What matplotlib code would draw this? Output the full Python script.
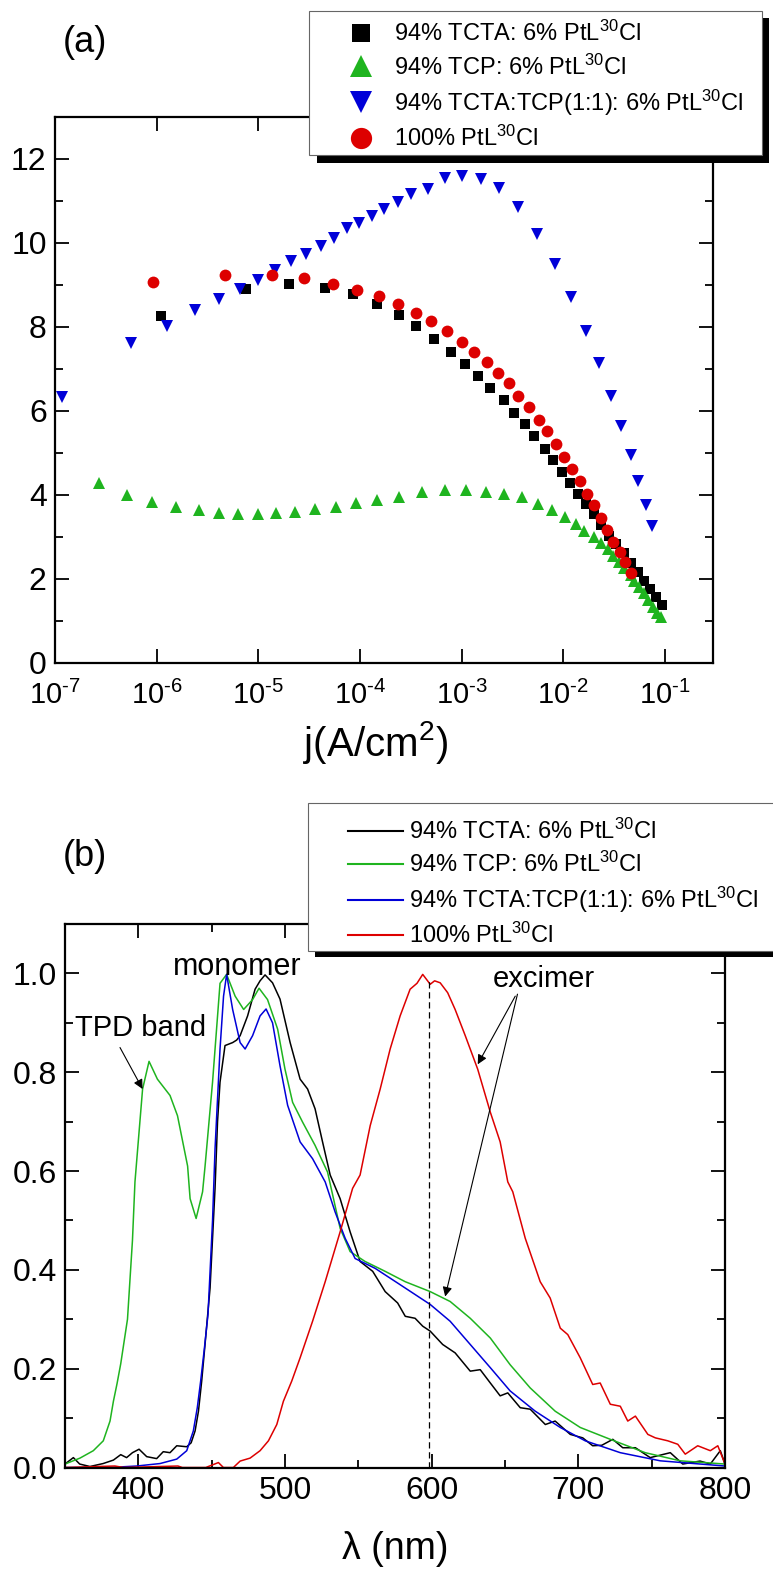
import numpy as np
import matplotlib
matplotlib.use('Agg')
import matplotlib.pyplot as plt
from matplotlib.patches import Rectangle
from matplotlib.ticker import (LogLocator, NullLocator, MultipleLocator,
                               FormatStrFormatter, FuncFormatter)

plt.rcParams['font.family'] = ['Liberation Sans', 'DejaVu Sans']
plt.rcParams['mathtext.fontset'] = 'custom'
plt.rcParams['mathtext.rm'] = 'Liberation Sans'
plt.rcParams['mathtext.it'] = 'Liberation Sans:italic'
plt.rcParams['mathtext.bf'] = 'Liberation Sans:bold'

labels = [r'94% TCTA: 6% PtL$^{30}$Cl',
          r'94% TCP: 6% PtL$^{30}$Cl',
          r'94% TCTA:TCP(1:1): 6% PtL$^{30}$Cl',
          r'100% PtL$^{30}$Cl']

# (a) EQE vs current density
j_tcta = [1.1e-6, 7.6e-6, 2.0e-5, 4.5e-5, 8.5e-5, 1.48e-4, 2.4e-4, 3.6e-4, 5.4e-4, 7.8e-4,
          1.07e-3, 1.45e-3, 1.9e-3, 2.6e-3, 3.3e-3, 4.2e-3, 5.2e-3, 6.6e-3, 7.9e-3, 9.8e-3,
          1.17e-2, 1.41e-2, 1.66e-2, 2.0e-2, 2.34e-2, 2.8e-2, 3.3e-2, 4.0e-2, 4.7e-2, 5.4e-2,
          6.2e-2, 7.1e-2, 8.1e-2, 9.3e-2]
eqe_tcta = [8.26, 8.90, 9.02, 8.92, 8.79, 8.55, 8.29, 8.01, 7.71, 7.41,
            7.11, 6.83, 6.54, 6.26, 5.96, 5.68, 5.39, 5.10, 4.82, 4.54,
            4.28, 4.02, 3.79, 3.54, 3.29, 3.03, 2.83, 2.61, 2.39, 2.17,
            1.96, 1.75, 1.56, 1.38]

j_tcp = [2.7e-7, 5.1e-7, 9.1e-7, 1.55e-6, 2.6e-6, 4.1e-6, 6.3e-6, 1.0e-5, 1.5e-5, 2.3e-5,
         3.6e-5, 5.8e-5, 9.1e-5, 1.48e-4, 2.45e-4, 4.1e-4, 6.8e-4, 1.1e-3, 1.74e-3, 2.6e-3,
         3.9e-3, 5.6e-3, 7.8e-3, 1.05e-2, 1.35e-2, 1.62e-2, 2.0e-2, 2.34e-2, 2.75e-2, 3.1e-2,
         3.55e-2, 4.0e-2, 4.6e-2, 5.0e-2, 5.6e-2, 6.2e-2, 6.9e-2, 7.6e-2, 8.3e-2, 9.1e-2]
eqe_tcp = [4.29, 4.00, 3.82, 3.71, 3.63, 3.58, 3.55, 3.55, 3.56, 3.60,
           3.66, 3.72, 3.80, 3.89, 3.96, 4.08, 4.12, 4.12, 4.08, 4.03,
           3.94, 3.79, 3.63, 3.47, 3.31, 3.15, 2.99, 2.85, 2.71, 2.55,
           2.41, 2.25, 2.10, 1.96, 1.82, 1.66, 1.50, 1.34, 1.20, 1.09]

j_mix = [1.17e-7, 5.6e-7, 1.26e-6, 2.4e-6, 4.1e-6, 6.6e-6, 1.0e-5, 1.45e-5, 2.1e-5, 2.95e-5,
         4.1e-5, 5.5e-5, 7.4e-5, 9.8e-5, 1.32e-4, 1.74e-4, 2.35e-4, 3.2e-4, 4.7e-4, 6.8e-4,
         1.02e-3, 1.55e-3, 2.35e-3, 3.6e-3, 5.5e-3, 8.3e-3, 1.2e-2, 1.66e-2, 2.24e-2, 2.95e-2,
         3.7e-2, 4.6e-2, 5.5e-2, 6.5e-2, 7.4e-2]
eqe_mix = [6.32, 7.61, 8.02, 8.39, 8.66, 8.90, 9.12, 9.36, 9.56, 9.74,
           9.93, 10.11, 10.35, 10.47, 10.63, 10.80, 10.98, 11.17, 11.28, 11.54,
           11.58, 11.52, 11.30, 10.85, 10.21, 9.50, 8.72, 7.91, 7.14, 6.36,
           5.63, 4.94, 4.32, 3.75, 3.25]

j_neat = [9.3e-7, 4.7e-6, 1.35e-5, 2.8e-5, 5.4e-5, 9.3e-5, 1.55e-4, 2.35e-4, 3.55e-4, 5.0e-4,
          7.2e-4, 1.0e-3, 1.32e-3, 1.78e-3, 2.3e-3, 2.95e-3, 3.6e-3, 4.6e-3, 5.8e-3, 6.9e-3,
          8.5e-3, 1.02e-2, 1.23e-2, 1.48e-2, 1.7e-2, 2.0e-2, 2.34e-2, 2.7e-2, 3.1e-2, 3.6e-2,
          4.1e-2, 4.6e-2]
eqe_neat = [9.06, 9.24, 9.24, 9.16, 9.02, 8.88, 8.74, 8.55, 8.34, 8.13,
            7.89, 7.64, 7.39, 7.17, 6.91, 6.66, 6.36, 6.08, 5.79, 5.51,
            5.21, 4.90, 4.61, 4.32, 4.02, 3.75, 3.44, 3.17, 2.89, 2.64,
            2.40, 2.15]

# (b) EL spectra
wl_tcta = [350, 355.7, 360, 367, 376, 383, 388, 392, 396, 400.5, 405.7, 412.5, 417, 421.6,
           426.2, 433, 436, 438.7, 441, 443.2, 445.5, 448.9, 452.3, 454, 455.7, 459.1, 464.3,
           467, 469.4, 474.5, 479.6, 483, 486.4, 491.5, 496.6, 503.5, 510.3, 515.4, 520.5,
           525.6, 530.8, 537.6, 544.4, 551.2, 559.8, 568.3, 576.8, 582, 588.7, 593.9, 599,
           607.5, 616, 626.3, 633.1, 640, 646.7, 651.9, 660.4, 667.2, 677.5, 684.2, 694.5,
           703, 709.8, 716, 723.5, 730.3, 738.9, 749, 762.7, 771.2, 783, 790, 796.8, 800]
el_tcta = [0.007, 0.02, 0.007, 0.002, 0.008, 0.015, 0.026, 0.02, 0.03, 0.037, 0.022, 0.018,
           0.032, 0.03, 0.044, 0.042, 0.05, 0.074, 0.114, 0.175, 0.25, 0.363, 0.565, 0.70,
           0.78, 0.854, 0.86, 0.865, 0.874, 0.914, 0.968, 0.985, 0.997, 0.981, 0.948, 0.86,
           0.786, 0.766, 0.726, 0.659, 0.592, 0.544, 0.477, 0.417, 0.397, 0.356, 0.333, 0.306,
           0.302, 0.286, 0.276, 0.249, 0.232, 0.195, 0.198, 0.171, 0.145, 0.151, 0.121, 0.118,
           0.087, 0.094, 0.067, 0.06, 0.044, 0.045, 0.057, 0.04, 0.04, 0.02, 0.03, 0.007,
           0.013, 0.007, 0.034, 0.007]

wl_tcp = [350, 360.2, 369.3, 376.1, 380.7, 383, 385.5, 388, 392.6, 396, 397.7, 402.9, 407.3,
          413, 421.6, 426.7, 433.6, 435.3, 439.4, 443.8, 445.5, 450.6, 455.7, 460.2, 466,
          471.8, 477.9, 482.3, 488.1, 495, 500, 505.2, 512, 520.5, 529, 537.6, 544.4, 554.6,
          568.3, 582, 599, 612.6, 626.3, 640, 653.5, 667.2, 684.2, 701.3, 721.8, 745.6,
          769.5, 800]
el_tcp = [0.007, 0.019, 0.034, 0.054, 0.094, 0.134, 0.17, 0.21, 0.30, 0.46, 0.578, 0.766,
          0.822, 0.786, 0.753, 0.712, 0.61, 0.544, 0.504, 0.558, 0.61, 0.78, 0.98, 0.998,
          0.954, 0.927, 0.947, 0.97, 0.947, 0.887, 0.806, 0.739, 0.699, 0.652, 0.598, 0.484,
          0.437, 0.417, 0.397, 0.376, 0.356, 0.336, 0.302, 0.262, 0.208, 0.161, 0.114, 0.081,
          0.057, 0.03, 0.0135, 0.007]

wl_mix = [350, 380.7, 398.9, 414.8, 426.2, 433, 437.5, 440.2, 442.5, 445, 447.5, 450.6, 452.3,
          455.7, 458.1, 460.2, 464.3, 469.4, 472.8, 477.9, 483, 487.1, 491.5, 496.6, 501.8,
          510.3, 518.8, 527.4, 534.2, 541, 547.8, 561.5, 578.5, 599, 612.6, 626.3, 640,
          653.5, 670.6, 687.7, 704.7, 728.6, 755.9, 800]
el_mix = [0.0, 0.0, 0.003, 0.008, 0.017, 0.034, 0.074, 0.121, 0.175, 0.24, 0.31, 0.50, 0.645,
          0.847, 0.954, 0.998, 0.927, 0.86, 0.847, 0.874, 0.914, 0.928, 0.90, 0.813, 0.733,
          0.659, 0.625, 0.578, 0.517, 0.464, 0.423, 0.403, 0.37, 0.33, 0.296, 0.249, 0.202,
          0.155, 0.114, 0.081, 0.054, 0.03, 0.0135, 0.003]

wl_neat = [350, 384, 390, 427, 430, 446, 454.6, 458, 464.8, 469.4, 476.2, 483, 488.7, 494.4,
           498.9, 504.6, 510.3, 518.8, 527.4, 537.6, 546.1, 551.2, 558.1, 564.9, 571.7, 578.5,
           585.3, 590, 593.9, 599, 602, 605.8, 610.9, 616, 622.9, 631.4, 640, 646.7, 651.9,
           655.3, 663.8, 674, 680.8, 687.7, 692.8, 701.3, 709.8, 714.9, 721.8, 728.6, 733.7,
           738.9, 747.4, 752.5, 761, 767.8, 772.9, 781.4, 790, 795.1, 800]
el_neat = [0.0, 0.003, 0.0, 0.003, 0.0, 0.0, 0.01, 0.0, 0.0, 0.013, 0.019, 0.034, 0.054,
           0.087, 0.134, 0.175, 0.222, 0.296, 0.376, 0.477, 0.565, 0.592, 0.692, 0.766, 0.847,
           0.914, 0.968, 0.98, 0.998, 0.978, 0.985, 0.981, 0.961, 0.927, 0.874, 0.806, 0.719,
           0.659, 0.578, 0.558, 0.464, 0.376, 0.343, 0.282, 0.269, 0.222, 0.168, 0.171, 0.128,
           0.124, 0.094, 0.104, 0.067, 0.06, 0.054, 0.047, 0.027, 0.044, 0.034, 0.044, 0.007]

excimer_peak = 598

W, H = 773, 1570


def fx(px):
    return px / W


def fy(py):
    return 1 - py / H


fig = plt.figure(figsize=(W / 100, H / 100), dpi=100)
ax1 = fig.add_axes([fx(55), fy(663), (713.3 - 55) / W, (663 - 116.7) / H])
ax2 = fig.add_axes([fx(65), fy(1467.5), (725 - 65) / W, (1467.5 - 924) / H])

green = '#1fb41f'
blue = '#0000d8'
red = '#dd0000'

# ---- panel (a)
ax1.plot(j_tcta, eqe_tcta, 's', color='black', ms=7.2, mew=0, label=labels[0])
ax1.plot(j_tcp, eqe_tcp, '^', color=green, ms=8.5, mew=0, label=labels[1])
ax1.plot(j_mix, eqe_mix, 'v', color=blue, ms=8.5, mew=0, label=labels[2])
ax1.plot(j_neat, eqe_neat, 'o', color=red, ms=8.5, mew=0, label=labels[3])
ax1.set_xscale('log')
ax1.set_xlim(1e-7, 0.3)
ax1.set_ylim(0, 13)
ax1.xaxis.set_major_locator(LogLocator(base=10, numticks=20))
ax1.xaxis.set_minor_locator(NullLocator())
ax1.xaxis.set_major_formatter(FuncFormatter(
    lambda v, p: '10$^{\u2010%d}$' % int(round(-np.log10(v)))))
ax1.yaxis.set_major_locator(MultipleLocator(2))
ax1.yaxis.set_minor_locator(MultipleLocator(1))

# ---- panel (b)
ax2.plot(wl_tcta, el_tcta, color='black', lw=1.1, label=labels[0])
ax2.plot(wl_tcp, el_tcp, color=green, lw=1.1, label=labels[1])
ax2.plot(wl_mix, el_mix, color=blue, lw=1.1, label=labels[2])
ax2.plot(wl_neat, el_neat, color=red, lw=1.1, label=labels[3])
ax2.vlines(excimer_peak, 0, 0.985, colors='black', linestyles=(0, (5, 3)), lw=0.9)
ax2.set_xlim(350, 800)
ax2.set_ylim(0, 1.1)
ax2.xaxis.set_major_locator(MultipleLocator(100))
ax2.xaxis.set_minor_locator(MultipleLocator(50))
ax2.yaxis.set_major_locator(MultipleLocator(0.2))
ax2.yaxis.set_minor_locator(MultipleLocator(0.1))
ax2.yaxis.set_major_formatter(FormatStrFormatter('%.1f'))

arrow = dict(arrowstyle='-|>', color='black', lw=0.8, mutation_scale=14,
             shrinkA=0, shrinkB=0)
ax2.text(467.7, 1.0135, 'monomer', ha='center', va='center', fontsize=22)
ax2.text(401.7, 0.8905, 'TPD band', ha='center', va='center', fontsize=21)
ax2.annotate('', xy=(402.9, 0.766), xytext=(387.5, 0.85), arrowprops=arrow)
ax2.text(676.4, 0.988, 'excimer', ha='center', va='center', fontsize=21)
ax2.annotate('', xy=(631.4, 0.816), xytext=(657, 0.954), arrowprops=arrow)
ax2.annotate('', xy=(609.2, 0.346), xytext=(658.5, 0.958), arrowprops=arrow)

for ax in (ax1, ax2):
    for s in ax.spines.values():
        s.set_linewidth(1.6)
    ax.tick_params(which='both', direction='in', top=True, right=True, width=1.3,
                   labelsize=23, pad=6)
    ax.tick_params(which='major', length=10)
    ax.tick_params(which='minor', length=6)
ax1.tick_params(axis='x', pad=13, labelsize=21)

# legends with drop-shadow frames
leg1 = ax1.legend(loc='upper left', bbox_to_anchor=(fx(337), fy(21)),
                  bbox_transform=fig.transFigure, frameon=False, borderpad=0,
                  borderaxespad=0, handlelength=2.0, handletextpad=0.42,
                  labelspacing=0.34, fontsize=17, markerscale=1.8)
leg1.set_zorder(12)
ax1.add_patch(Rectangle((fx(309), fy(155.3)), (761.5 - 309) / W, (155.3 - 10.7) / H,
                        transform=fig.transFigure, fc='white', ec='#666666', lw=0.8,
                        zorder=10, clip_on=False))
ax1.add_patch(Rectangle((fx(316.5), fy(163)), (761.5 - 309) / W, (155.3 - 10.7) / H,
                        transform=fig.transFigure, fc='black', ec='none',
                        zorder=9.9, clip_on=False))

leg2 = ax2.legend(loc='upper left', bbox_to_anchor=(fx(347.5), fy(819)),
                  bbox_transform=fig.transFigure, frameon=False, borderpad=0,
                  borderaxespad=0, handlelength=2.33, handletextpad=0.28,
                  labelspacing=0.33, fontsize=17)
leg2.set_zorder(12)
for ln in leg2.get_lines():
    ln.set_linewidth(1.5)
ax2.add_patch(Rectangle((fx(307.5), fy(950.7)), (800 - 307.5) / W, (950.7 - 802.7) / H,
                        transform=fig.transFigure, fc='white', ec='#666666', lw=0.8,
                        zorder=10, clip_on=False))
ax2.add_patch(Rectangle((fx(315), fy(956.7)), (800 - 307.5) / W, (950.7 - 802.7) / H,
                        transform=fig.transFigure, fc='black', ec='none',
                        zorder=9.9, clip_on=False))

fig.text(fx(85), fy(42), '(a)', ha='center', va='center', fontsize=26)
fig.text(fx(85), fy(857), '(b)', ha='center', va='center', fontsize=26)
fig.text(fx(375), fy(743), r'j(A/cm$^2$)', ha='center', va='center', fontsize=29)
fig.text(fx(395), fy(1549), 'λ (nm)', ha='center', va='center', fontsize=27)

fig.savefig('out.png', dpi=100)
